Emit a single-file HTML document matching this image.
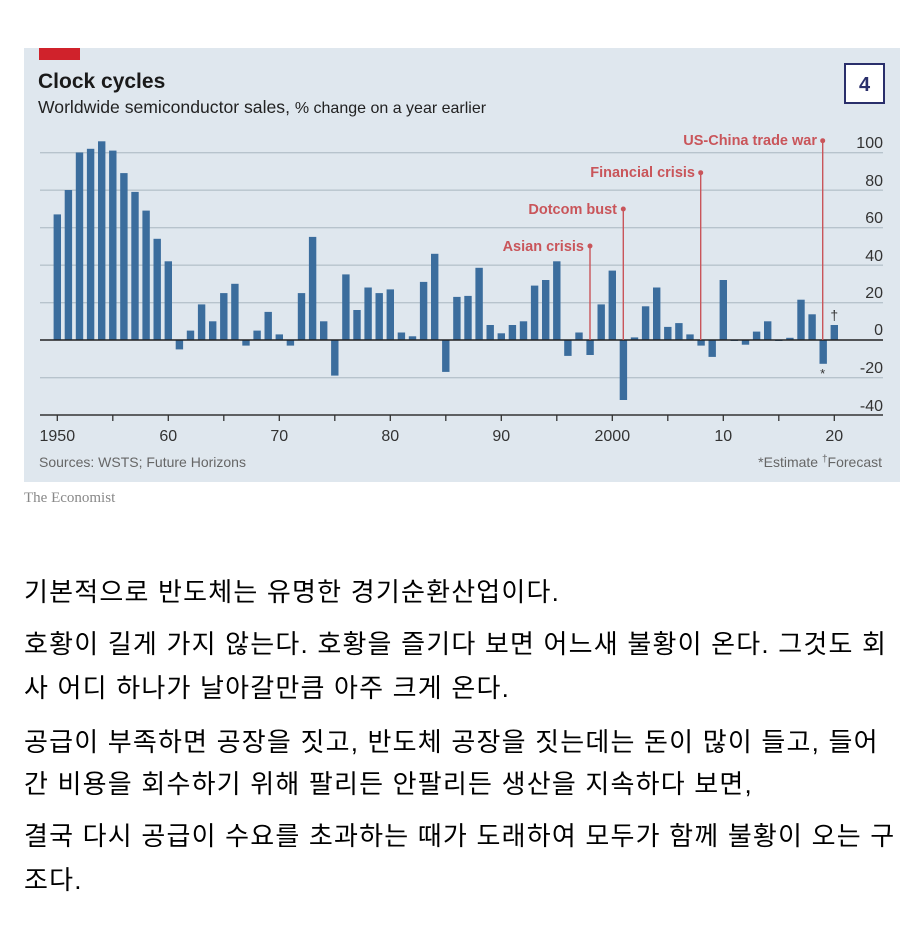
<!DOCTYPE html>
<html><head><meta charset="utf-8"><style>
body{margin:0;width:924px;height:938px;background:#fff;position:relative;overflow:hidden}
.k{position:absolute;left:24px;font-family:"Liberation Sans","Noto Sans CJK KR",sans-serif;font-size:26px;line-height:30px;color:#000;white-space:nowrap;letter-spacing:1.2px}
</style></head><body>
<svg width="924" height="520" style="position:absolute;left:0;top:0" font-family="Liberation Sans, sans-serif">
<rect x="24" y="48" width="876" height="434" fill="#dfe7ee"/>
<rect x="39" y="48" width="41" height="12" fill="#d0222b"/>
<text x="38" y="88" font-size="21" font-weight="bold" fill="#1a1a1a">Clock cycles</text>
<text x="38" y="113" font-size="17.6" fill="#222">Worldwide semiconductor sales, <tspan font-size="16">% change on a year earlier</tspan></text>
<rect x="845" y="64" width="39" height="39" fill="#fff" stroke="#2a2f6b" stroke-width="2"/>
<text x="864.5" y="91" font-size="20" font-weight="bold" fill="#2a2f6b" text-anchor="middle">4</text>
<g stroke="#b7c3cc" stroke-width="1.3">
<line x1="40" x2="883" y1="152.7" y2="152.7"/><line x1="40" x2="883" y1="190.2" y2="190.2"/>
<line x1="40" x2="883" y1="227.7" y2="227.7"/><line x1="40" x2="883" y1="265.2" y2="265.2"/>
<line x1="40" x2="883" y1="302.7" y2="302.7"/><line x1="40" x2="883" y1="377.7" y2="377.7"/>
</g>
<g font-size="16" fill="#333" text-anchor="end">
<text x="883" y="148">100</text><text x="883" y="186">80</text><text x="883" y="223">60</text>
<text x="883" y="261">40</text><text x="883" y="298">20</text><text x="883" y="335">0</text>
<text x="883" y="373">-20</text><text x="883" y="411">-40</text>
</g>
<g id="bars" fill="#3b6d9d"></g>
<line x1="40" x2="883" y1="340" y2="340" stroke="#222" stroke-width="1.5"/>
<line x1="40" x2="883" y1="415" y2="415" stroke="#333" stroke-width="1.5"/>
<g id="ticks" stroke="#333" stroke-width="1.3"></g>
<g font-size="16" fill="#333" text-anchor="middle">
<text x="57.3" y="441">1950</text><text x="168.3" y="441">60</text><text x="279.3" y="441">70</text>
<text x="390.3" y="441">80</text><text x="501.3" y="441">90</text><text x="612.3" y="441">2000</text>
<text x="723.3" y="441">10</text><text x="834.3" y="441">20</text>
</g>
<g stroke="#c9555a" stroke-width="1.4" fill="#c9555a">
<line x1="590" x2="590" y1="246" y2="340"/><circle cx="590" cy="246" r="1.8"/>
<line x1="623.3" x2="623.3" y1="209" y2="340"/><circle cx="623.3" cy="209" r="1.8"/>
<line x1="700.7" x2="700.7" y1="172.7" y2="340"/><circle cx="700.7" cy="172.7" r="1.8"/>
<line x1="822.7" x2="822.7" y1="140.7" y2="340"/><circle cx="822.7" cy="140.7" r="1.8"/>
</g>
<g font-size="14.5" font-weight="bold" fill="#c9555a" text-anchor="end">
<text x="584" y="251">Asian crisis</text><text x="617" y="214">Dotcom bust</text>
<text x="695" y="177">Financial crisis</text><text x="817" y="145">US-China trade war</text>
</g>
<text x="822.7" y="378" font-size="13" fill="#333" text-anchor="middle">*</text>
<text x="834.3" y="320" font-size="14" fill="#333" text-anchor="middle">†</text>
<text x="39" y="467" font-size="14" fill="#666">Sources: WSTS; Future Horizons</text>
<text x="882" y="467" font-size="14" fill="#666" text-anchor="end">*Estimate  <tspan font-size="10" dy="-5">†</tspan><tspan dy="5">Forecast</tspan></text>
<text x="24" y="502" font-size="15" fill="#888" font-family="Liberation Serif, serif">The Economist</text>
</svg>
<script>
var v=[67,80,100,102,106,101,89,79,69,54,42,-5,5,19,10,25,30,-3,5,15,3,-3,25,55,10,-19,35,16,28,25,27,4,2,31,46,-17,23,23.5,38.5,8,3.6,8,10,29,32,42,-8.5,4,-8,19,37,-32,1.4,18,28,7,9,3,-3,-9,32,-0.4,-2.5,4.5,10,-0.2,1.2,21.5,13.7,-12.7,8];
var g=document.getElementById('bars'),s='';
for(var i=0;i<v.length;i++){var x=57.3+i*11.1-3.7,h=Math.abs(v[i])*1.875,y=v[i]>=0?340-h:340;s+='<rect x="'+x.toFixed(1)+'" y="'+y.toFixed(1)+'" width="7.4" height="'+Math.max(h,1).toFixed(1)+'"/>';}
g.innerHTML=s;
var t='';for(var j=0;j<=14;j++){var x=57.3+j*55.5;t+='<line x1="'+x+'" x2="'+x+'" y1="415" y2="421"/>';}
document.getElementById('ticks').innerHTML=t;
</script>
<div class="k" style="top:577px">기본적으로 반도체는 유명한 경기순환산업이다.</div>
<div class="k" style="top:629px">호황이 길게 가지 않는다. 호황을 즐기다 보면 어느새 불황이 온다. 그것도 회</div>
<div class="k" style="top:673px">사 어디 하나가 날아갈만큼 아주 크게 온다.</div>
<div class="k" style="top:727px">공급이 부족하면 공장을 짓고, 반도체 공장을 짓는데는 돈이 많이 들고, 들어</div>
<div class="k" style="top:769px">간 비용을 회수하기 위해 팔리든 안팔리든 생산을 지속하다 보면,</div>
<div class="k" style="top:821px">결국 다시 공급이 수요를 초과하는 때가 도래하여 모두가 함께 불황이 오는 구</div>
<div class="k" style="top:865px">조다.</div>
</body></html>
